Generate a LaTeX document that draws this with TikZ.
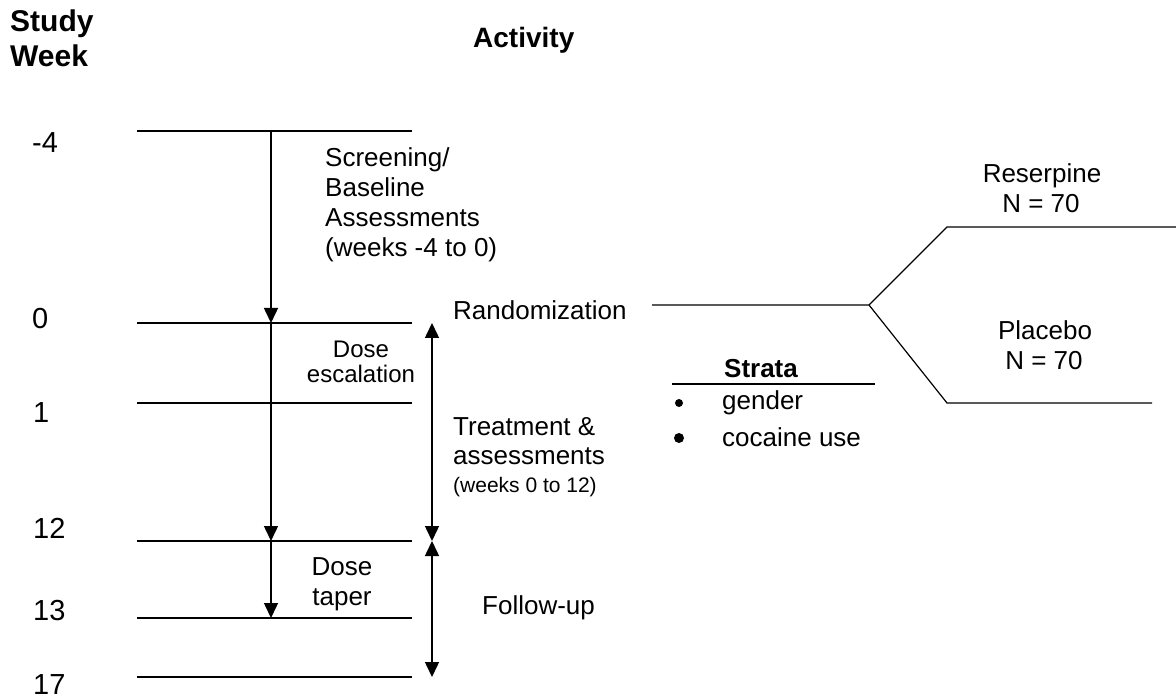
\documentclass[tikz,border=0pt]{standalone}
\usepackage{fontspec}
\setmainfont{Liberation Sans}
\usetikzlibrary{arrows.meta}
\begin{document}
\begin{tikzpicture}[x=1pt,y=-1pt,
  txt/.style={inner sep=0pt, font=\fontsize{26}{30}\selectfont},
  txtsmall/.style={inner sep=0pt, font=\fontsize{24}{28}\selectfont},
  txttiny/.style={inner sep=0pt, font=\fontsize{21}{25}\selectfont},
  num/.style={inner sep=0pt, anchor=base west, font=\fontsize{29}{33}\selectfont},
  head/.style={inner sep=0pt, anchor=base west, font=\fontsize{30}{34}\selectfont\bfseries},
  rule/.style={line width=1.5pt},
  arr/.style={line width=1.5pt, -{Triangle[width=14pt,length=15pt]}},
  darr/.style={line width=1.5pt, {Triangle[width=14pt,length=15pt]}-{Triangle[width=14pt,length=15pt]}}]
\useasboundingbox (0,0) rectangle (1176,700);
% headings
\node[head] (study) at (10,32) {Study};
\node[head] (week) at (10,67) {Week};
\node[head, font=\fontsize{28}{32}\selectfont\bfseries] (activity) at (473,48) {Activity};
% week numbers
\node[num] (nm4) at (32,153) {-4};
\node[num] (n0) at (32,329) {0};
\node[num] (n1) at (33,423) {1};
\node[num] (n12) at (33,538) {12};
\node[num] (n13) at (33,620) {13};
\node[num] (n17) at (33,694) {17};
% timeline lines
\foreach \nm/\yy in {m4/131, z/323, one/403, twelve/541, thirteen/618, seventeen/677}{
  \coordinate (L\nm) at (137,\yy);
  \coordinate (R\nm) at (412,\yy);
  \coordinate (A\nm) at (271,\yy);
  \coordinate (B\nm) at (432,\yy);
  \draw[rule] (L\nm) -- (R\nm);
}
% left arrows
\draw[arr] (Am4) -- (Az);
\draw[arr] (Az) -- (Atwelve);
\draw[arr] (Atwelve) -- (Athirteen);
% right double arrows
\draw[darr] (Bz) -- (Btwelve);
\draw[darr] (Btwelve) -- (Bseventeen);
% texts
\node[txt, anchor=base west] (scr1) at (325,167) {Screening/};
\node[txt, anchor=base west] (scr2) at (325,197) {Baseline};
\node[txt, anchor=base west] (scr3) at (325,227) {Assessments};
\node[txt, anchor=base west] (scr4) at (325,257) {(weeks -4 to 0)};
\node[txt, anchor=base west] (rand) at (453,320) {Randomization};
\node[txtsmall, anchor=base] (de1) at (361,358) {Dose};
\node[txtsmall, anchor=base] (de2) at (361,383) {escalation};
\node[txt, anchor=base west] (tr1) at (453,436) {Treatment \&};
\node[txt, anchor=base west] (tr2) at (453,465) {assessments};
\node[txttiny, anchor=base west] (tr3) at (453,493) {(weeks 0 to 12)};
\node[txt, anchor=base] (dt1) at (342,575) {Dose};
\node[txt, anchor=base] (dt2) at (342,605) {taper};
\node[txt, anchor=base west] (fu) at (482,614) {Follow-up};
% randomization fork
\coordinate (rs) at (652,305);
\coordinate (fork) at (869,305);
\coordinate (up) at (947,227);
\coordinate (upend) at (1176,227);
\coordinate (lo) at (947,403);
\coordinate (loend) at (1152,403);
\draw[line width=1.2pt] (rs) -- (fork) -- (up) -- (upend);
\draw[line width=1.2pt] (fork) -- (lo) -- (loend);
\node[txt, anchor=base] (res) at (1042,183) {Reserpine};
\node[txt, anchor=base] (resn) at (1041,213) {N = 70};
\node[txt, anchor=base] (pla) at (1045,340) {Placebo};
\node[txt, anchor=base] (plan) at (1044,370) {N = 70};
% strata
\node[txt, anchor=base, font=\fontsize{26}{30}\selectfont\bfseries] (strata) at (761,378) {Strata};
\coordinate (sl) at (672,384);
\coordinate (sr) at (875,384);
\draw[line width=1.2pt] (sl) -- (sr);
\fill (679,403) circle (4pt);
\fill (679,438) circle (5pt);
\node[txt, anchor=base west] (gen) at (722,410) {gender};
\node[txt, anchor=base west] (coc) at (722,447) {cocaine use};
\end{tikzpicture}
\end{document}
